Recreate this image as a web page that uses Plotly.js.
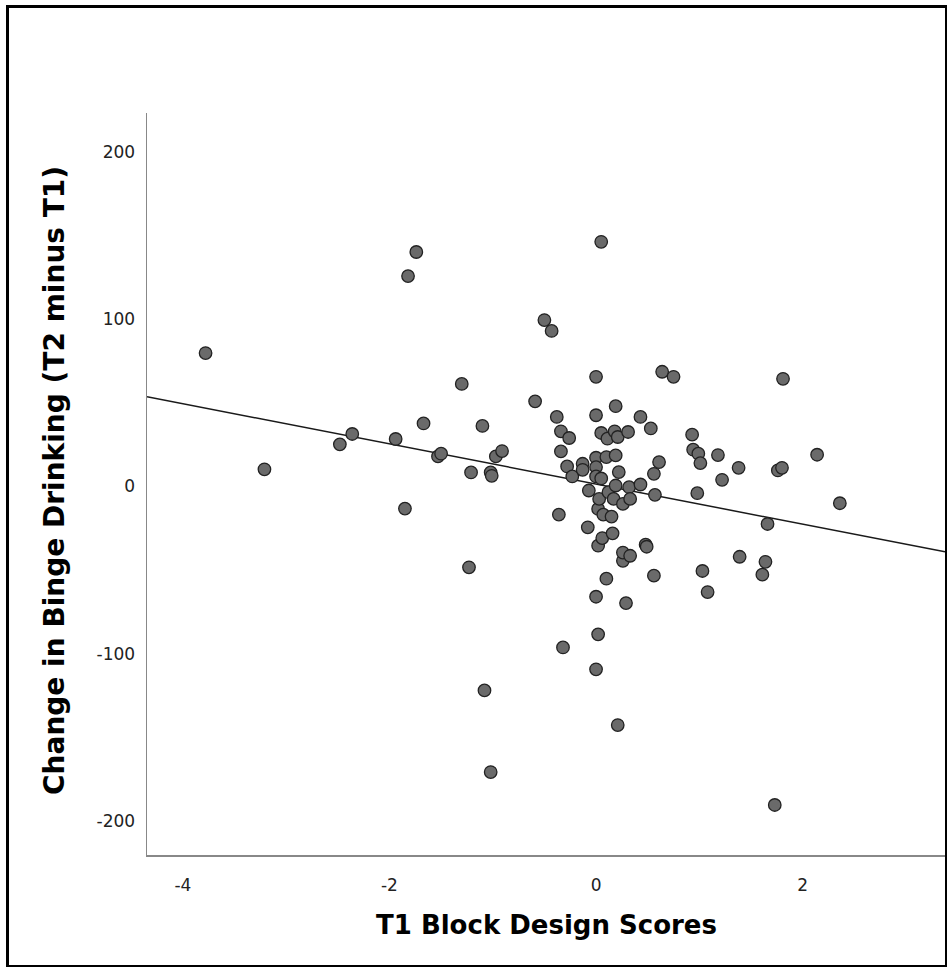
<!DOCTYPE html>
<html>
<head>
<meta charset="utf-8">
<script src="https://cdn.plot.ly/plotly-3.0.1.min.js"></script>
<style>
html,body{margin:0;padding:0;background:#fff;}
#chart{width:948px;height:968px;}
#frame{position:absolute;left:6px;top:5px;width:941px;height:962px;box-sizing:border-box;border-style:solid;border-color:#000;border-width:3px 2px 2px 3px;pointer-events:none;}
</style>
</head>
<body>
<div id="chart"></div>
<div id="frame"></div>
<script>
// T1 Block Design Scores (x) and Change in Binge Drinking (y)
const blockDesign = [-3.78,-3.21,-2.48,-2.36,-1.94,-1.85,-1.82,-1.74,-1.67,-1.53,
  -1.50,-1.30,-1.23,-1.21,-1.10,-1.08,-1.02,-1.02,-1.01,-0.97,
  -0.91,-0.59,-0.50,-0.43,-0.38,-0.36,-0.34,-0.34,-0.32,-0.28,
  -0.26,-0.23,-0.13,-0.13,-0.08,-0.07,0,0,0,0,
  0,0,0,0.02,0.02,0.02,0.03,0.05,0.05,0.05,
  0.06,0.07,0.10,0.10,0.11,0.12,0.15,0.16,0.17,0.18,
  0.19,0.19,0.19,0.21,0.21,0.22,0.26,0.26,0.26,0.29,
  0.31,0.32,0.33,0.33,0.43,0.43,0.48,0.49,0.53,0.56,
  0.56,0.57,0.61,0.64,0.75,0.93,0.94,0.99,0.98,1.01,
  1.03,1.08,1.18,1.22,1.38,1.39,1.61,1.64,1.66,1.73,
  1.76,1.80,1.81,2.14,2.36];
const bingeChange = [79.8,10.3,25.2,31.4,28.4,-13.2,125.8,140.2,37.7,18.0,
  19.6,61.3,-48.3,8.4,36.2,-121.9,-170.7,8.4,6.4,18.0,
  21.2,50.9,99.5,93.0,41.6,-16.8,21.0,33.0,-96.2,12.0,
  29.0,6.0,13.6,10.0,-24.4,-2.4,65.6,42.6,17.2,11.6,
  6.0,-65.9,-109.3,-88.4,-35.4,-13.4,-7.4,146.3,32.0,4.8,
  -30.8,-16.8,-55.1,17.6,28.6,-3.4,-18.0,-28.0,-7.4,33.0,
  18.6,0.6,48.0,29.6,-142.6,8.6,-10.4,-44.4,-39.5,-69.7,
  32.6,-0.4,-41.4,-7.4,1.2,41.6,-34.8,-36.0,34.7,-53.3,
  7.6,-5.0,14.6,68.6,65.6,31.0,22.0,19.6,-4.0,14.0,
  -50.5,-63.1,18.8,4.0,11.2,-42.0,-52.7,-45.0,-22.4,-190.4,
  9.6,11.2,64.4,19.0,-10.0];

const xTickVals = [-4, -2, 0, 2];
const xTickText = ['-4', '-2', '0', '2'];
const yTickVals = [-200, -100, 0, 100, 200];
const yTickText = ['-200', '-100', '0', '100', '200'];
const xRange = [-4.347, 3.378];
const yRange = [-220.3, 223.3];
const xTitle = 'T1 Block Design Scores';
const yTitle = 'Change in Binge Drinking (T2 minus T1)';

// least-squares fit line
const n = blockDesign.length;
const mx = blockDesign.reduce((a,b)=>a+b,0)/n;
const my = bingeChange.reduce((a,b)=>a+b,0)/n;
let sxy = 0, sxx = 0;
for (let i=0;i<n;i++){ sxy += (blockDesign[i]-mx)*(bingeChange[i]-my); sxx += (blockDesign[i]-mx)**2; }
const slope = sxy/sxx;
const intercept = my - slope*mx;
const fitX = xRange.slice();
const fitY = fitX.map(v => intercept + slope*v);

const traces = [
  {
    type:'scatter', mode:'lines', x:fitX, y:fitY,
    line:{color:'#1a1a1a', width:1.5}, hoverinfo:'skip'
  },
  {
    type:'scatter', mode:'markers', x:blockDesign, y:bingeChange,
    marker:{size:12.5, color:'rgb(106,106,106)', line:{color:'#222', width:1.3}}
  }
];

const layout = {
  width:948, height:968,
  margin:{l:147, r:3, t:113, b:113, pad:0},
  paper_bgcolor:'#fff', plot_bgcolor:'#fff',
  showlegend:false,
  font:{family:'DejaVu Sans, sans-serif', color:'#000'},
  xaxis:{
    range:xRange, tickmode:'array', tickvals:xTickVals, ticktext:xTickText,
    showgrid:false, zeroline:false, showline:true, linecolor:'#888', linewidth:1.5,
    ticks:'', tickfont:{size:17, color:'#222'}, ticklabelstandoff:14
  },
  yaxis:{
    range:yRange, tickmode:'array', tickvals:yTickVals, ticktext:yTickText,
    showgrid:false, zeroline:false, showline:true, linecolor:'#888', linewidth:1.5,
    ticks:'', tickfont:{size:17, color:'#222'}, ticklabelstandoff:7
  },
  annotations:[
    {text:xTitle, xref:'paper', yref:'paper', x:0.5, y:-0.0943, xanchor:'center', yanchor:'middle',
     showarrow:false, font:{size:26, weight:'bold', color:'#000'}},
    {text:yTitle, xref:'paper', yref:'paper', x:-0.1153, y:0.5054, xanchor:'center', yanchor:'middle',
     textangle:-90, showarrow:false, font:{size:28, weight:'bold', color:'#000'}}
  ]
};

Plotly.newPlot('chart', traces, layout, {displayModeBar:false, staticPlot:true});
</script>
</body>
</html>
